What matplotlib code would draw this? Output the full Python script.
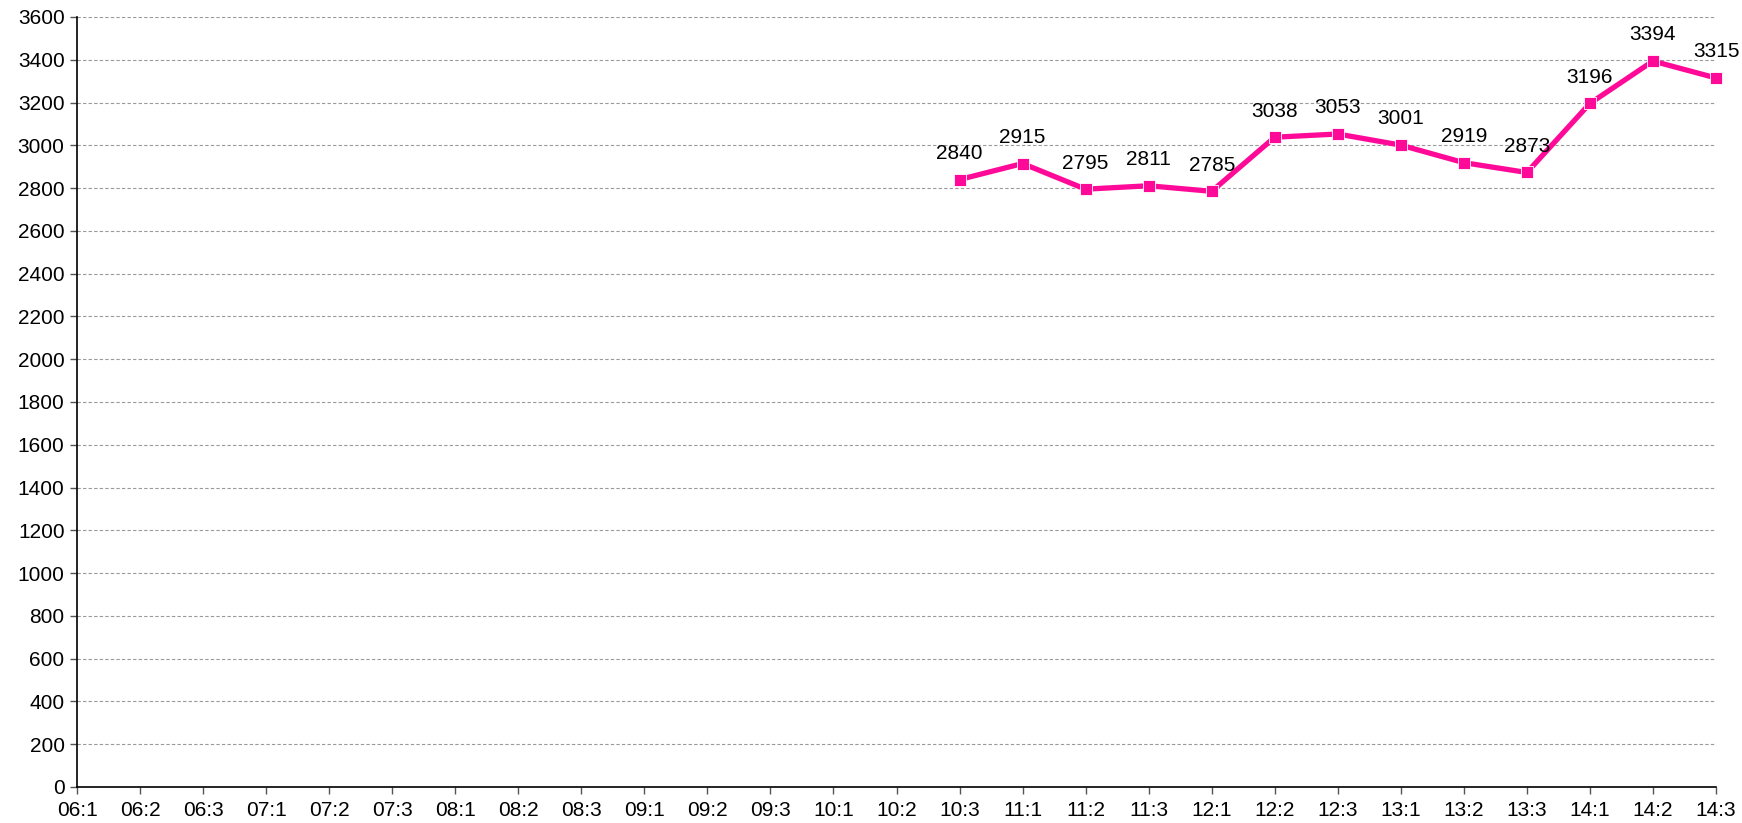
import numpy as np
import matplotlib.pyplot as plt

plt.rcParams['font.family'] = ['Liberation Sans', 'DejaVu Sans']

# === Данные ===
time_labels = ['06:1', '06:2', '06:3', '07:1', '07:2', '07:3', '08:1', '08:2', '08:3',
               '09:1', '09:2', '09:3', '10:1', '10:2', '10:3', '11:1', '11:2', '11:3',
               '12:1', '12:2', '12:3', '13:1', '13:2', '13:3', '14:1', '14:2', '14:3']
values = [None] * 14 + [2840, 2915, 2795, 2811, 2785, 3038, 3053, 3001, 2919,
                        2873, 3196, 3394, 3315]
y_ticks = list(range(0, 3601, 200))

x = np.arange(len(time_labels))
y = np.array([np.nan if v is None else v for v in values], dtype=float)

# === Визуализация ===
fig = plt.figure(figsize=(17.42, 8.23), dpi=100)
ax = fig.add_axes([77 / 1742, 36 / 823, (1716 - 77) / 1742, (787 - 17) / 823])

color = '#FF0A98'
ax.plot(x, y, color=color, linewidth=3.8, marker='s', markersize=9,
        markerfacecolor=color, markeredgecolor='white', markeredgewidth=0.6,
        zorder=3, clip_on=False)

for xi, v in zip(x, values):
    if v is None:
        continue
    ax.annotate(str(v), (xi, v), xytext=(0, 12), textcoords='offset points',
                ha='center', va='bottom', fontsize=15)

ax.set_xlim(0, len(time_labels) - 1)
ax.set_ylim(0, 3600)
ax.set_xticks(x)
ax.set_xticklabels(time_labels)
ax.set_yticks(y_ticks)
ax.tick_params(axis='both', labelsize=15, length=5, width=1, color='#555555')
ax.tick_params(axis='x', pad=5)
ax.tick_params(axis='y', pad=4)

ax.grid(axis='y', linestyle=(0, (3, 2)), color='#999999', linewidth=0.8)
ax.set_axisbelow(True)
for side in ['top', 'right']:
    ax.spines[side].set_visible(False)
for side in ['left', 'bottom']:
    ax.spines[side].set_linewidth(1.2)
    ax.spines[side].set_color('black')

fig.savefig('out.png', dpi=100)
